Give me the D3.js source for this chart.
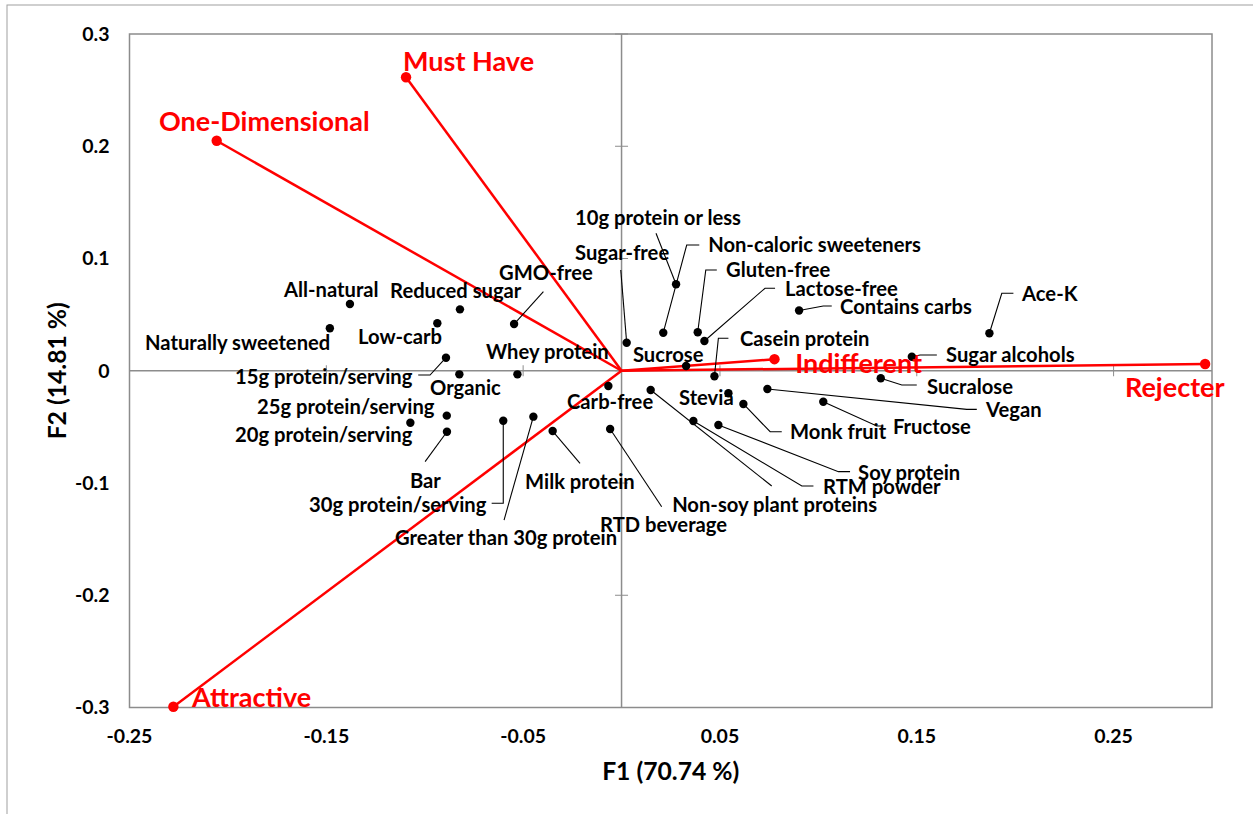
<!DOCTYPE html>
<html>
<head>
<meta charset="utf-8">
<script src="https://cdn.jsdelivr.net/npm/d3@7"></script>
<style>
  html, body { margin: 0; padding: 0; background: #fff; }
  svg { display: block; }
  text { font-family: Lato, "Open Sans", sans-serif; font-weight: bold; }
</style>
</head>
<body>
<svg id="chart" width="1253" height="814"></svg>
<script>
// ---------------- data ----------------
const attributeNames = [
  "Naturally sweetened", "All-natural", "Low-carb", "Reduced sugar", "GMO-free",
  "15g protein/serving", "Organic", "Whey protein", "25g protein/serving", "20g protein/serving",
  "Bar", "30g protein/serving", "Greater than 30g protein", "Milk protein", "Carb-free",
  "RTD beverage", "Sugar-free", "10g protein or less", "Non-caloric sweeteners", "Gluten-free",
  "Lactose-free", "Contains carbs", "Sucrose", "Casein protein", "Non-soy plant proteins",
  "Stevia", "Monk fruit", "RTM powder", "Soy protein", "Vegan",
  "Fructose", "Sucralose", "Sugar alcohols", "Ace-K"
];
const attributeF1 = [
  -0.1482, -0.1380, -0.0936, -0.0821, -0.0546,
  -0.0892, -0.0824, -0.0529, -0.0888, -0.1073,
  -0.0887, -0.0601, -0.0448, -0.0350, -0.0067,
  -0.0058, 0.0026, 0.0277, 0.0212, 0.0387,
  0.0421, 0.0902, 0.0328, 0.0472, 0.0148,
  0.0543, 0.0619, 0.0365, 0.0492, 0.0741,
  0.1025, 0.1317, 0.1475, 0.1869
];
const attributeF2 = [
  0.0378, 0.0595, 0.0423, 0.0547, 0.0416,
  0.0116, -0.0032, -0.0032, -0.0400, -0.0463,
  -0.0543, -0.0445, -0.0409, -0.0537, -0.0136,
  -0.0519, 0.0250, 0.0770, 0.0339, 0.0343,
  0.0265, 0.0537, 0.0042, -0.0049, -0.0171,
  -0.0201, -0.0296, -0.0448, -0.0483, -0.0163,
  -0.0276, -0.0067, 0.0125, 0.0334
];

const categoryNames = ["Must Have", "One-Dimensional", "Attractive", "Indifferent", "Rejecter"];
const categoryF1 = [-0.1095, -0.2057, -0.2277, 0.0777, 0.2965];
const categoryF2 = [0.2615, 0.2049, -0.2993, 0.0103, 0.0060];

const xTicks = [-0.25, -0.15, -0.05, 0.05, 0.15, 0.25];
const yTicks = [-0.3, -0.2, -0.1, 0, 0.1, 0.2, 0.3];
const xTitle = "F1 (70.74 %)";
const yTitle = "F2 (14.81 %)";

// ---------------- label layout (in data units) ----------------
const attrLabelPos = [
  [-0.2421, 0.0247], [-0.1715, 0.0719], [-0.1339, 0.0301], [-0.1176, 0.0710], [-0.0622, 0.0871],
  [-0.1964, -0.0056], [-0.0973, -0.0154], [-0.0689, 0.0167], [-0.1852, -0.0323], [-0.1964, -0.0572],
  [-0.1075, -0.0982], [-0.1588, -0.1196], [-0.1151, -0.1490], [-0.0490, -0.0991], [-0.0277, -0.0278],
  [-0.0109, -0.1374], [-0.0236, 0.1049], [-0.0236, 0.1361], [0.0440, 0.1120], [0.0531, 0.0898],
  [0.0831, 0.0728], [0.1110, 0.0568], [0.0058, 0.0140], [0.0602, 0.0283], [0.0257, -0.1196],
  [0.0292, -0.0243], [0.0856, -0.0546], [0.1024, -0.1036], [0.1202, -0.0911], [0.1852, -0.0350],
  [0.1379, -0.0501], [0.1552, -0.0145], [0.1649, 0.0140], [0.2035, 0.0684]
];
const attrLeaders = [
  null, null, null, null, [[-0.0397, 0.0704]],
  [[-0.1033, -0.0038], [-0.0973, -0.0038]], null, null, null, null,
  [[-0.0998, -0.0810]], [[-0.0660, -0.1181], [-0.0601, -0.1181]], [[-0.0597, -0.1330]], [[-0.0211, -0.0825]], null,
  [[0.0204, -0.1211]], [[-0.0004, 0.0898]], [[0.0175, 0.1225]], [[0.0395, 0.1120], [0.0331, 0.1120]], [[0.0484, 0.0898], [0.0428, 0.0898]],
  [[0.0780, 0.0735], [0.0729, 0.0735]], [[0.1068, 0.0577], [0.1025, 0.0577]], null, [[0.0543, 0.0289], [0.0492, 0.0289]], [[0.0763, -0.1027]],
  null, [[0.0814, -0.0543], [0.0755, -0.0543]], [[0.0975, -0.1027], [0.0916, -0.1027]], [[0.1161, -0.0899], [0.1102, -0.0899]], [[0.1805, -0.0344], [0.1754, -0.0344]],
  [[0.1330, -0.0492], [0.1297, -0.0492]], [[0.1500, -0.0127], [0.1424, -0.0127]], [[0.1602, 0.0140], [0.1517, 0.0140]], [[0.1991, 0.0690], [0.1932, 0.0690]]
];
const catLabelPos = [[-0.1110, 0.2759], [-0.2350, 0.2216], [-0.2182, -0.2915], [0.0882, 0.0060], [0.2558, -0.0154]];

// ---------------- drawing ----------------
const svg = d3.select("#chart");
const plot = { left: 129.5, right: 1212, top: 34, bottom: 707.5 };
const x = d3.scaleLinear().domain([-0.25, 0.3]).range([plot.left, plot.right]);
const y = d3.scaleLinear().domain([-0.3, 0.3]).range([plot.bottom, plot.top]);

// outer chart frame
svg.append("rect").attr("x", 7).attr("y", 5).attr("width", 1400).attr("height", 1000)
  .attr("fill", "none").attr("stroke", "#a0a0a0").attr("stroke-width", 1);

// plot border
svg.append("rect").attr("x", plot.left).attr("y", plot.top)
  .attr("width", plot.right - plot.left).attr("height", plot.bottom - plot.top)
  .attr("fill", "none").attr("stroke", "#8c8c8c").attr("stroke-width", 1.5);

// zero axes
const axisColor = "#8c8c8c";
svg.append("line").attr("x1", plot.left).attr("x2", plot.right).attr("y1", y(0)).attr("y2", y(0))
  .attr("stroke", axisColor).attr("stroke-width", 1.5);
svg.append("line").attr("x1", x(0)).attr("x2", x(0)).attr("y1", plot.top).attr("y2", plot.bottom)
  .attr("stroke", axisColor).attr("stroke-width", 1.5);

// cross tick marks on zero axes
svg.append("g").selectAll("line").data(xTicks).join("line")
  .attr("x1", d => x(d)).attr("x2", d => x(d)).attr("y1", y(0) - 5.5).attr("y2", y(0) + 5.5)
  .attr("stroke", axisColor).attr("stroke-width", 1);
svg.append("g").selectAll("line").data(yTicks).join("line")
  .attr("x1", x(0) - 6.5).attr("x2", x(0) + 6.5).attr("y1", d => y(d)).attr("y2", d => y(d))
  .attr("stroke", axisColor).attr("stroke-width", 1);

// tick labels
svg.append("g").selectAll("text").data(xTicks).join("text")
  .attr("x", d => x(d)).attr("y", plot.bottom + 29).attr("dy", "0.35em")
  .attr("text-anchor", "middle").attr("font-size", 19.5).attr("fill", "#000")
  .text(d => String(d));
svg.append("g").selectAll("text").data(yTicks).join("text")
  .attr("x", plot.left - 20).attr("y", d => y(d)).attr("dy", "0.35em")
  .attr("text-anchor", "end").attr("font-size", 19.5).attr("fill", "#000")
  .text(d => String(d));

// axis titles
svg.append("text").attr("x", (plot.left + plot.right) / 2).attr("y", 771).attr("dy", "0.35em")
  .attr("text-anchor", "middle").attr("font-size", 24.7).attr("fill", "#000").text(xTitle);
svg.append("text").attr("transform", `translate(57,${(plot.top + plot.bottom) / 2}) rotate(-90)`)
  .attr("dy", "0.35em").attr("text-anchor", "middle").attr("font-size", 24.7).attr("fill", "#000").text(yTitle);

// category vectors
const cats = categoryNames.map((n, i) => ({ name: n, f1: categoryF1[i], f2: categoryF2[i], lp: catLabelPos[i] }));
svg.append("g").selectAll("line").data(cats).join("line")
  .attr("x1", x(0)).attr("y1", y(0)).attr("x2", d => x(d.f1)).attr("y2", d => y(d.f2))
  .attr("stroke", "#ff0000").attr("stroke-width", 2.5);

// attribute leaders
const attrs = attributeNames.map((n, i) => ({ name: n, f1: attributeF1[i], f2: attributeF2[i], lp: attrLabelPos[i], leader: attrLeaders[i] }));
const lineGen = d3.line().x(d => x(d[0])).y(d => y(d[1]));
svg.append("g").selectAll("path").data(attrs.filter(d => d.leader)).join("path")
  .attr("d", d => lineGen([...d.leader, [d.f1, d.f2]]))
  .attr("fill", "none").attr("stroke", "#000").attr("stroke-width", 1.1);

// attribute points
svg.append("g").selectAll("circle").data(attrs).join("circle")
  .attr("cx", d => x(d.f1)).attr("cy", d => y(d.f2)).attr("r", 4.2).attr("fill", "#000");

// category points
svg.append("g").selectAll("circle").data(cats).join("circle")
  .attr("cx", d => x(d.f1)).attr("cy", d => y(d.f2)).attr("r", 5.2).attr("fill", "#ff0000");

// attribute labels
svg.append("g").selectAll("text").data(attrs).join("text")
  .attr("x", d => x(d.lp[0])).attr("y", d => y(d.lp[1])).attr("dy", "0.35em")
  .attr("font-size", 20.2).attr("fill", "#000").text(d => d.name);

// category labels
svg.append("g").selectAll("text").data(cats).join("text")
  .attr("x", d => x(d.lp[0])).attr("y", d => y(d.lp[1])).attr("dy", "0.35em")
  .attr("font-size", 27).attr("fill", "#ff0000").text(d => d.name);
</script>
</body>
</html>
